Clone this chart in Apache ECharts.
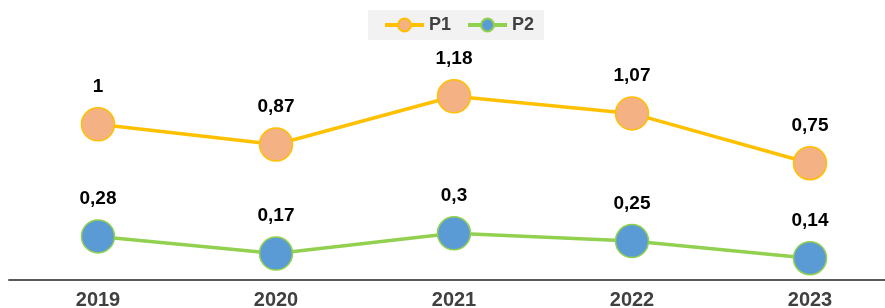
<!DOCTYPE html>
<html>
<head>
<meta charset="utf-8">
<script src="https://cdn.jsdelivr.net/npm/echarts@6/dist/echarts.min.js"></script>
<style>
  html, body { margin: 0; padding: 0; background: #fff; }
  #container { width: 885px; height: 308px; }
</style>
</head>
<body>
<div id="container"></div>
<script>
var years = ['2019', '2020', '2021', '2022', '2023'];
var p1 = [1, 0.87, 1.18, 1.07, 0.75];
var p2 = [0.28, 0.17, 0.3, 0.25, 0.14];

var dom = document.getElementById('container');
var myChart = echarts.init(dom, null, { renderer: 'canvas' });

function fmt(p) { return String(p.value).replace('.', ','); }   // comma decimals

var labelStyle = {
  show: true,
  position: 'top',
  distance: 11,
  formatter: fmt,
  color: '#000',
  fontFamily: 'Liberation Sans',
  fontWeight: 'bold',
  fontSize: 19
};

var option = {
  animation: false,
  legend: {
    top: 10,
    left: 368,
    backgroundColor: '#F2F2F2',
    padding: [6, 10, 6, 15],
    itemWidth: 39,
    itemHeight: 16,
    itemGap: 15,
    lineStyle: { width: 4 },
    textStyle: { color: '#404040', fontFamily: 'Liberation Sans', fontWeight: 'bold', fontSize: 18 }
  },
  grid: { left: 9, width: 890, top: 62, bottom: 28, outerBoundsMode: 'none', containLabel: false },
  xAxis: {
    type: 'category',
    data: years,
    axisLine: { lineStyle: { color: '#595959', width: 2 } },
    axisTick: { show: false },
    axisLabel: { color: '#404040', fontFamily: 'Liberation Sans', fontWeight: 'bold', fontSize: 20, margin: 10 }
  },
  yAxis: {
    type: 'value',
    min: 0,
    max: 1.4,
    show: false,
    splitLine: { show: false }
  },
  series: [
    {
      name: 'P1',
      type: 'line',
      data: p1,
      symbol: 'circle',
      symbolSize: 33,
      lineStyle: { color: '#FFC000', width: 3.5 },
      itemStyle: { color: '#F4B183', borderColor: '#FFC000', borderWidth: 1.5 },
      label: labelStyle
    },
    {
      name: 'P2',
      type: 'line',
      data: p2,
      symbol: 'circle',
      symbolSize: 33,
      lineStyle: { color: '#92D050', width: 3.5 },
      itemStyle: { color: '#5B9BD5', borderColor: '#92D050', borderWidth: 1.5 },
      label: labelStyle
    }
  ]
};

myChart.setOption(option);
window.addEventListener('resize', myChart.resize);
</script>
</body>
</html>
